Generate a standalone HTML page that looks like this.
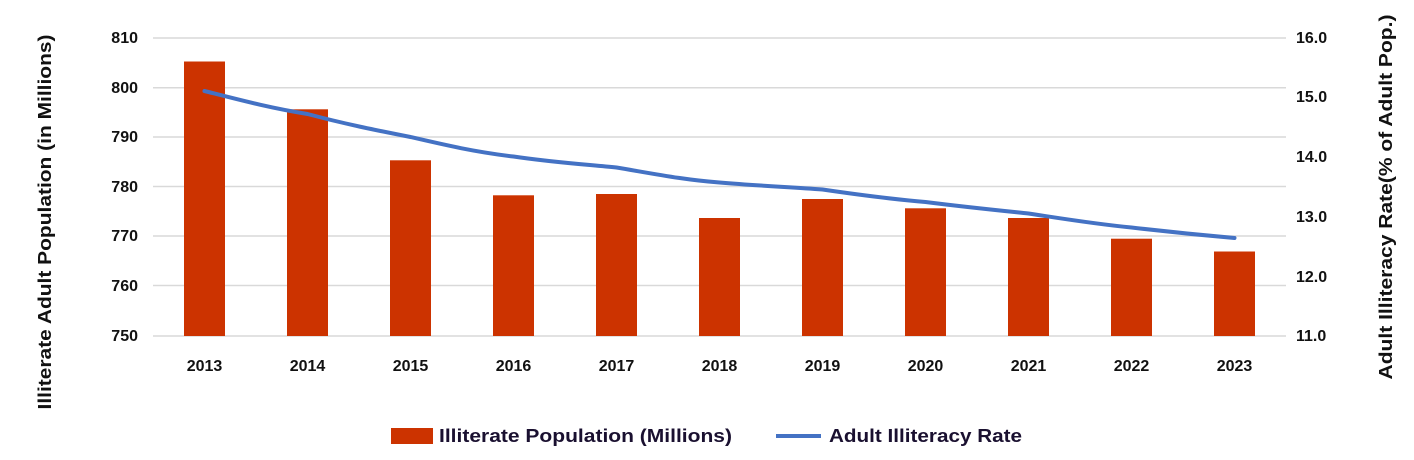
<!DOCTYPE html>
<html><head><meta charset="utf-8"><style>
html,body{margin:0;padding:0;background:#fff;}
svg{display:block;font-family:"Liberation Sans",Arial,sans-serif;}
</style></head><body>
<svg width="1414" height="460" viewBox="0 0 1414 460" xmlns="http://www.w3.org/2000/svg">
<g stroke="#d9d9d9" stroke-width="1.5">
<line x1="153" y1="38" x2="1286" y2="38"/>
<line x1="153" y1="87.7" x2="1286" y2="87.7"/>
<line x1="153" y1="137" x2="1286" y2="137"/>
<line x1="153" y1="186.5" x2="1286" y2="186.5"/>
<line x1="153" y1="236" x2="1286" y2="236"/>
<line x1="153" y1="285.5" x2="1286" y2="285.5"/>
<line x1="153" y1="336" x2="1286" y2="336"/>
</g>
<g fill="#cc3300">
<rect x="184" y="61.5" width="41" height="274.5"/>
<rect x="287" y="109.3" width="41" height="226.7"/>
<rect x="390" y="160.3" width="41" height="175.7"/>
<rect x="493" y="195.3" width="41" height="140.7"/>
<rect x="596" y="194" width="41" height="142"/>
<rect x="699" y="218" width="41" height="118"/>
<rect x="802" y="199" width="41" height="137"/>
<rect x="905" y="208.3" width="41" height="127.7"/>
<rect x="1008" y="218" width="41" height="118"/>
<rect x="1111" y="238.7" width="41" height="97.3"/>
<rect x="1214" y="251.5" width="41" height="84.5"/>
</g>
<path d="M204.5,91 C240,100 270,108 307.5,114 C345,124 375,130 410.5,137 C445,145 475,152 513.5,156.5 C550,162 580,164 616.5,167.5 C655,174 685,180 719.5,182.5 C760,186 790,187 822.5,189.5 C860,195 890,199 925.5,202 C965,207 995,210 1028.5,213.5 C1065,219 1095,224 1131.5,227.5 C1170,232 1200,235 1234.5,238" fill="none" stroke="#4472c4" stroke-width="4" stroke-linecap="round"/>
<g font-size="16" font-weight="bold" fill="#111" text-anchor="end">
<text x="138" y="43">810</text><text x="138" y="93">800</text><text x="138" y="142">790</text>
<text x="138" y="192">780</text><text x="138" y="241">770</text><text x="138" y="291">760</text><text x="138" y="341">750</text>
</g>
<g font-size="16" font-weight="bold" fill="#111">
<text x="1296" y="43">16.0</text><text x="1296" y="102">15.0</text><text x="1296" y="162">14.0</text>
<text x="1296" y="222">13.0</text><text x="1296" y="282">12.0</text><text x="1296" y="341">11.0</text>
</g>
<g font-size="16" font-weight="bold" fill="#111" text-anchor="middle">
<text x="204.5" y="371">2013</text><text x="307.5" y="371">2014</text><text x="410.5" y="371">2015</text>
<text x="513.5" y="371">2016</text><text x="616.5" y="371">2017</text><text x="719.5" y="371">2018</text>
<text x="822.5" y="371">2019</text><text x="925.5" y="371">2020</text><text x="1028.5" y="371">2021</text>
<text x="1131.5" y="371">2022</text><text x="1234.5" y="371">2023</text>
</g>
<text transform="translate(51,222) rotate(-90)" font-size="18" font-weight="bold" fill="#111" text-anchor="middle" textLength="375" lengthAdjust="spacingAndGlyphs">Illiterate Adult Population (in Millions)</text>
<text transform="translate(1392,197) rotate(-90)" font-size="18" font-weight="bold" fill="#111" text-anchor="middle" textLength="365" lengthAdjust="spacingAndGlyphs">Adult Illiteracy Rate(% of Adult Pop.)</text>
<rect x="391" y="428" width="42" height="16" fill="#cc3300"/>
<text x="439" y="442" font-size="18" font-weight="bold" fill="#1a1030" textLength="293" lengthAdjust="spacingAndGlyphs">Illiterate Population (Millions)</text>
<line x1="776" y1="436" x2="821" y2="436" stroke="#4472c4" stroke-width="4"/>
<text x="829" y="442" font-size="18" font-weight="bold" fill="#1a1030" textLength="193" lengthAdjust="spacingAndGlyphs">Adult Illiteracy Rate</text>
</svg>
</body></html>
